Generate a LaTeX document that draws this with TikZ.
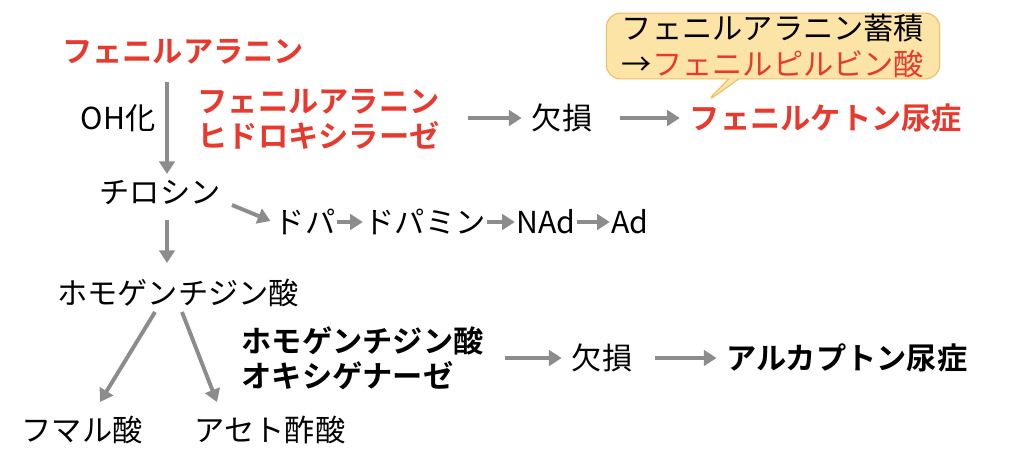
\documentclass[tikz,border=0pt]{standalone}
\usepackage{fontspec}
\setmainfont{Noto Sans CJK JP}[BoldFont={* Bold}]
\usepackage{xcolor}
\usetikzlibrary{arrows.meta,shapes.callouts}
\definecolor{pkured}{HTML}{E8392E}
\definecolor{arrgray}{HTML}{8C8C8C}
\definecolor{notefill}{HTML}{FCE3A6}
\definecolor{noteline}{HTML}{F2BE63}
\begin{document}
\begin{tikzpicture}[x=0.025cm,y=-0.025cm,
  txt/.style={font=\fontsize{21.5}{25}\selectfont,inner sep=1pt},
  redb/.style={txt,text=pkured,font=\fontsize{21.5}{25}\selectfont\bfseries},
  blkb/.style={txt,font=\fontsize{21.5}{25}\selectfont\bfseries},
  arr/.style={draw=arrgray,line width=2.8pt,-{Triangle[length=9pt,width=11pt]},shorten >=6pt}]
\useasboundingbox (0,0) rectangle (1024,470);

% note
\node[rectangle callout,rounded corners=10pt,fill=notefill,draw=noteline,line width=0.8pt,
  text width=235pt,align=center,inner sep=4pt,
  callout absolute pointer={(705,103)},txt] (note) at (773,46)
  {フェニルアラニン蓄積\\ →\textcolor{pkured}{フェニルピルビン酸}};

\node[redb] (phe) at (183,52) {フェニルアラニン};
\node[txt] (oh) at (118,118) {OH化};
\node[redb,align=left,anchor=west] (pah) at (196,119) {フェニルアラニン\\ヒドロキシラーゼ};
\node[txt] (def1) at (562,118) {欠損};
\node[redb] (pku) at (826,118) {フェニルケトン尿症};

\node[txt] (tyr) at (160,192) {チロシン};
\node[txt] (dopa) at (305,222) {ドパ};
\node[txt] (da) at (425,222) {ドパミン};
\node[txt] (nad) at (546,222) {NAd};
\node[txt] (ad) at (630,222) {Ad};

\node[txt] (hga) at (178,293) {ホモゲンチジン酸};
\node[blkb,align=left,anchor=west] (hgo) at (240,358) {ホモゲンチジン酸\\オキシゲナーゼ};
\node[txt] (def2) at (602,358) {欠損};
\node[blkb] (alk) at (847,358) {アルカプトン尿症};
\node[txt] (fum) at (82,430) {フマル酸};
\node[txt] (aca) at (270,430) {アセト酢酸};

\coordinate (a1) at (167,82); \coordinate (a2) at (167,174);
\draw[arr,shorten >=0pt] (a1) -- (a2);
\coordinate (b1) at (468,118); \coordinate (b2) at (620,118);
\draw[arr] (b1) -- (def1.west);
\draw[arr] (b2) -- (pku.west);
\coordinate (c1) at (232,205);
\draw[arr,shorten >=2pt] (c1) -- (dopa.west);
\draw[arr,shorten >=0pt] (dopa.east) -- (da.west);
\draw[arr,shorten >=0pt] (da.east) -- (nad.west);
\draw[arr,shorten >=0pt] (nad.east) -- (ad.west);
\coordinate (d1) at (167,220); \coordinate (d2) at (167,263);
\draw[arr,shorten >=0pt] (d1) -- (d2);
\coordinate (h1) at (155,312); \coordinate (h2) at (182,312);
\draw[arr,shorten >=0pt] (h1) -- (100,402);
\draw[arr,shorten >=0pt] (h2) -- (217,402);
\coordinate (e1) at (505,358); \coordinate (e2) at (655,358);
\draw[arr] (e1) -- (def2.west);
\draw[arr] (e2) -- (alk.west);
\end{tikzpicture}
\end{document}
